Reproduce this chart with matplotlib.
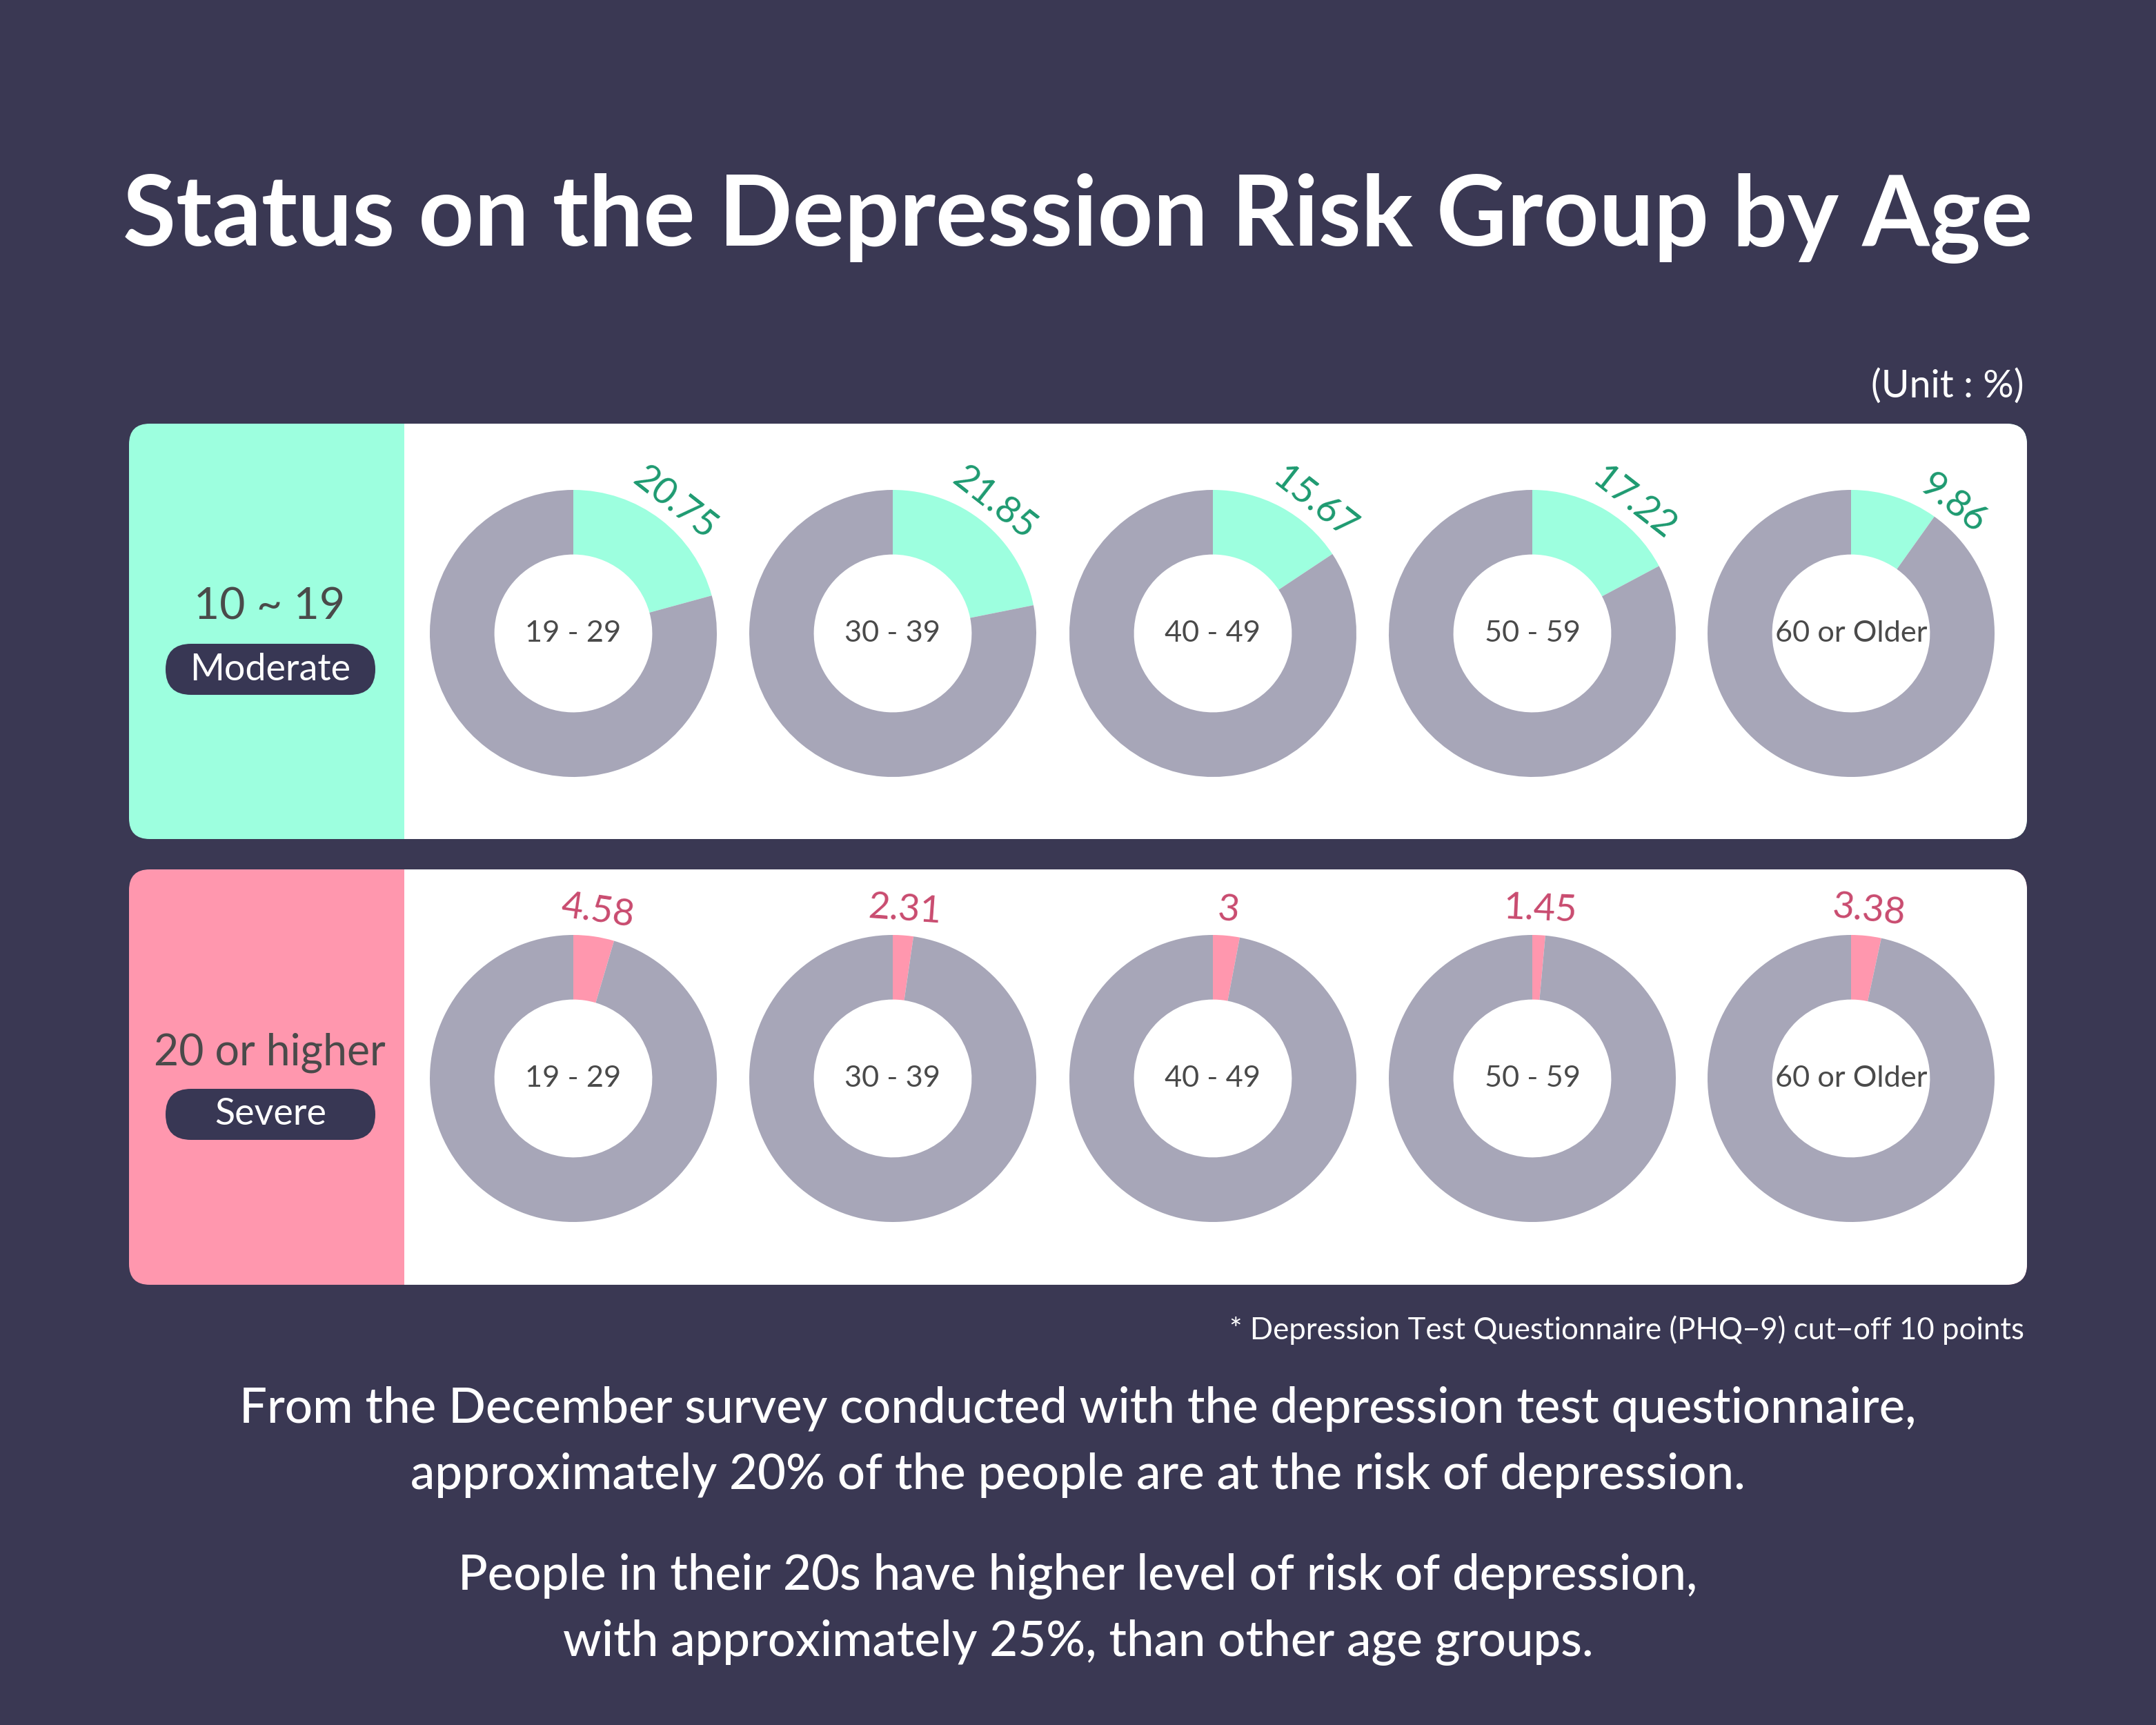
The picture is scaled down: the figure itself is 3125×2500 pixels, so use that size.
import matplotlib
matplotlib.use("Agg")
import matplotlib.pyplot as plt
from matplotlib.patches import FancyBboxPatch, Rectangle
import numpy as np

# Data
age_groups = ["19 - 29", "30 - 39", "40 - 49", "50 - 59", "60 or Older"]
moderate = [20.75, 21.85, 15.67, 17.22, 9.86]
severe = [4.58, 2.31, 3, 1.45, 3.38]
moderate_labels = ["20.75", "21.85", "15.67", "17.22", "9.86"]
severe_labels = ["4.58", "2.31", "3", "1.45", "3.38"]

# Colours
bg = "#3a3853"
navy = "#383754"
mint = "#9dffdf"
pink = "#ff97ae"
grey = "#a7a6b8"
green_txt = "#1d9a70"
pink_txt = "#c94b6f"
dark_txt = "#4a4a4a"

plt.rcParams["font.family"] = ["Lato", "DejaVu Sans"]

W, H = 3125, 2500
fig = plt.figure(figsize=(12.5, 10), dpi=250, facecolor=bg)

# background canvas in pixel units
ax_bg = fig.add_axes([0, 0, 1, 1])
ax_bg.set_xlim(0, W)
ax_bg.set_ylim(H, 0)
ax_bg.axis("off")
ax_bg.set_facecolor(bg)

ax_bg.text(W / 2, 316, "Status on the Depression Risk Group by Age", color="white",
           fontsize=40.5, fontweight="bold", ha="center", va="center")
ax_bg.text(2934, 560, "(Unit : %)", color="white", fontsize=16, ha="right", va="center")

panel_x0, panel_x1 = 187, 2938
split_x = 586
rad = 30


def panel(y0, y1, color):
    ax_bg.add_patch(FancyBboxPatch((panel_x0 + rad, y0 + rad), panel_x1 - panel_x0 - 2 * rad,
                                   y1 - y0 - 2 * rad, boxstyle=f"round,pad={rad}",
                                   fc=color, ec="none"))
    ax_bg.add_patch(FancyBboxPatch((split_x + rad, y0 + rad), panel_x1 - split_x - 2 * rad,
                                   y1 - y0 - 2 * rad, boxstyle=f"round,pad={rad}",
                                   fc="white", ec="none"))
    ax_bg.add_patch(Rectangle((split_x, y0), rad * 2, y1 - y0, fc="white", ec="none"))


def pill(cx, cy, text):
    w, h = 304, 74
    ax_bg.add_patch(FancyBboxPatch((cx - w / 2 + h / 2, cy), w - h, 0.01,
                                   boxstyle=f"round,pad={h / 2}", fc=navy, ec="none"))
    ax_bg.text(cx, cy, text, color="white", fontsize=15.5, ha="center", va="center")


panel(614, 1216, mint)
panel(1260, 1862, pink)

ax_bg.text(391, 880, "10 ~ 19", color=dark_txt, fontsize=18.5, ha="center", va="center")
pill(392, 970, "Moderate")
ax_bg.text(391, 1526, "20 or higher", color=dark_txt, fontsize=18, ha="center", va="center")
pill(392, 1615, "Severe")

ax_bg.text(2934, 1928, "* Depression Test Questionnaire (PHQ\u22129) cut\u2212off 10 points",
           color="white", fontsize=12.6, ha="right", va="center")

lines = [
    (2042, "From the December survey conducted with the depression test questionnaire,"),
    (2138, "approximately 20% of the people are at the risk of depression."),
    (2284, "People in their 20s have higher level of risk of depression,"),
    (2380, "with approximately 25%, than other age groups."),
]
for y, t in lines:
    ax_bg.text(W / 2, y, t, color="white", fontsize=20.4, fontweight="medium",
               ha="center", va="center")

# donuts
centers_x = [831, 1294, 1758, 2221, 2683]
R = 208


def donut(cx, cy, value, label, center_label, color, txt_color, label_angle=None, r=1.17):
    ax = fig.add_axes([(cx - R) / W, 1 - (cy + R) / H, 2 * R / W, 2 * R / H])
    ax.pie([value, 100 - value], colors=[color, grey], startangle=90, counterclock=False,
           radius=1, wedgeprops=dict(width=0.45, edgecolor="none"))
    ax.set_xlim(-1, 1)
    ax.set_ylim(-1, 1)
    ax.set_aspect("equal")
    ax.axis("off")
    ax.text(0, 0, center_label, color=dark_txt, fontsize=12.5, ha="center", va="center")
    if label_angle is None:
        label_angle = 90 - value / 100 * 360 / 2
    a = np.deg2rad(label_angle)
    ax.text(r * np.cos(a), r * np.sin(a), label, color=txt_color, fontsize=15.5,
            ha="center", va="center", rotation=label_angle - 90,
            rotation_mode="anchor")


for i in range(5):
    donut(centers_x[i], 918, moderate[i], moderate_labels[i], age_groups[i], mint, green_txt,
          label_angle=52, r=1.15)
    donut(centers_x[i], 1563, severe[i], severe_labels[i], age_groups[i], pink, pink_txt,
          r=1.18)

fig.savefig("out.png", dpi=250, facecolor=bg)
